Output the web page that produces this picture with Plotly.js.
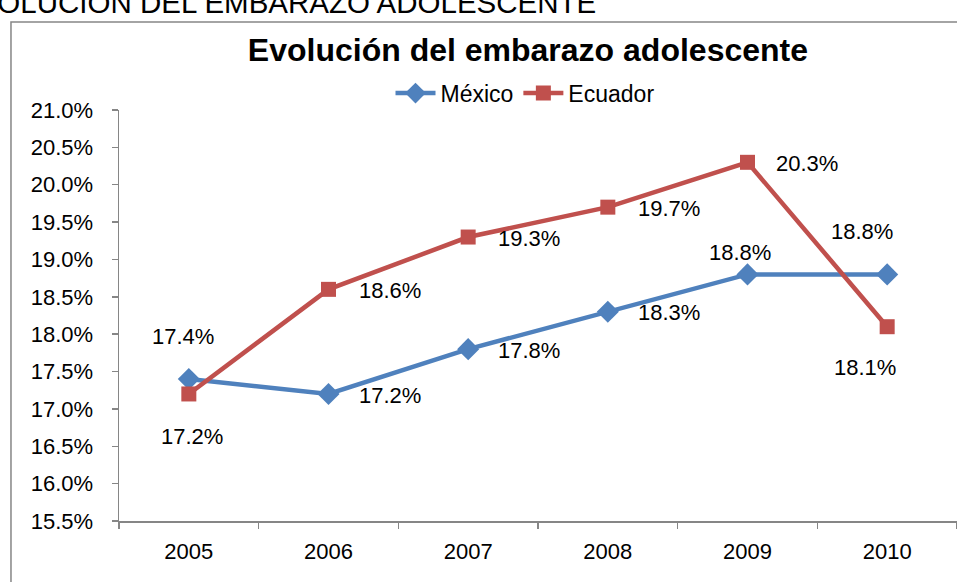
<!DOCTYPE html>
<html>
<head>
<meta charset="utf-8">
<script src="https://cdn.plot.ly/plotly-3.0.1.min.js"></script>
<style>html,body{margin:0;padding:0;background:#fff;}#chart{width:957px;height:582px;}</style>
</head>
<body>
<div id="chart"></div>
<script>
// ---- data ----
const years = ["2005", "2006", "2007", "2008", "2009", "2010"];
const mexico = [17.4, 17.2, 17.8, 18.3, 18.8, 18.8];
const ecuador = [17.2, 18.6, 19.3, 19.7, 20.3, 18.1];
const yTicks = [15.5, 16.0, 16.5, 17.0, 17.5, 18.0, 18.5, 19.0, 19.5, 20.0, 20.5, 21.0];
const seriesNames = ["México", "Ecuador"];
const chartTitle = "Evolución del embarazo adolescente";
const pageHeading = "EVOLUCIÓN DEL EMBARAZO ADOLESCENTE";

// ---- label placement (style only) ----
const mexLabelPos = [
  {xa: "center", xs: -6, ys: 43},
  {xa: "left", xs: 28, ys: -2},
  {xa: "left", xs: 28, ys: -1},
  {xa: "left", xs: 28, ys: -1},
  {xa: "center", xs: -8, ys: 22},
  {xa: "center", xs: -25, ys: 43}
];
const ecuLabelPos = [
  {xa: "center", xs: 3, ys: -43},
  {xa: "left", xs: 28, ys: -1},
  {xa: "left", xs: 28, ys: -1},
  {xa: "left", xs: 28, ys: -1},
  {xa: "left", xs: 26, ys: -1},
  {xa: "center", xs: -22, ys: -41}
];

const font = "Liberation Sans, Arial, sans-serif";
const blue = "#4F81BD", red = "#C0504D", axisGray = "#868686";

const fmt = v => v.toFixed(1) + "%";

const traces = [
  {
    x: years, y: mexico, name: seriesNames[0], type: "scatter", mode: "lines+markers",
    line: {color: blue, width: 4.5},
    marker: {symbol: "diamond", size: 17, color: blue},
    cliponaxis: false
  },
  {
    x: years, y: ecuador, name: seriesNames[1], type: "scatter", mode: "lines+markers",
    line: {color: red, width: 4.5},
    marker: {symbol: "square", size: 15, color: red},
    cliponaxis: false
  }
];

const annotations = [];
years.forEach((yr, i) => {
  // category axis: position by category index
  annotations.push({x: i, y: mexico[i], xref: "x", yref: "y", text: fmt(mexico[i]),
    showarrow: false, xanchor: mexLabelPos[i].xa, yanchor: "middle",
    xshift: mexLabelPos[i].xs, yshift: mexLabelPos[i].ys,
    font: {family: font, size: 22, color: "#000"}});
  annotations.push({x: i, y: ecuador[i], xref: "x", yref: "y", text: fmt(ecuador[i]),
    showarrow: false, xanchor: ecuLabelPos[i].xa, yanchor: "middle",
    xshift: ecuLabelPos[i].xs, yshift: ecuLabelPos[i].ys,
    font: {family: font, size: 22, color: "#000"}});
});
annotations.push({x: 0.5716, y: 1.262, xref: "paper", yref: "paper", text: pageHeading,
  showarrow: false, xanchor: "right", yanchor: "middle",
  font: {family: font, size: 29.5, color: "#000"}});

const layout = {
  width: 957, height: 582,
  margin: {l: 119, r: 0, t: 110, b: 61},
  paper_bgcolor: "#fff", plot_bgcolor: "#fff",
  showlegend: true,
  title: {text: "<b>" + chartTitle + "</b>", xref: "paper", yref: "container",
    x: 0.488, xanchor: "center", y: 0.914, yanchor: "middle",
    font: {family: font, size: 32, color: "#000"}},
  legend: {orientation: "h", x: 0.4845, xanchor: "center", y: 1.041, yanchor: "middle",
    font: {family: font, size: 23, color: "#000"}, bgcolor: "rgba(0,0,0,0)",
    itemwidth: 40, tracegroupgap: 0},
  xaxis: {
    type: "category", range: [-0.5, 5.5], tickson: "boundaries",
    showline: true, linecolor: axisGray, linewidth: 1.5,
    ticks: "outside", ticklen: 6, tickcolor: axisGray, tickwidth: 1.5,
    ticklabelstandoff: 10,
    showgrid: false, zeroline: false, fixedrange: true,
    tickfont: {family: font, size: 22, color: "#000"}
  },
  yaxis: {
    range: [15.5, 21.0], tickvals: yTicks, ticktext: yTicks.map(fmt),
    showline: true, linecolor: axisGray, linewidth: 1.5,
    ticks: "outside", ticklen: 6, tickcolor: axisGray, tickwidth: 1.5,
    ticklabelstandoff: 14,
    showgrid: false, zeroline: false, fixedrange: true,
    tickfont: {family: font, size: 22, color: "#000"}
  },
  annotations: annotations,
  shapes: [
    {type: "rect", xref: "paper", yref: "paper", x0: -0.1289, x1: 1.2, y0: -0.3, y1: 1.2141,
     line: {color: axisGray, width: 1.5}, fillcolor: "rgba(0,0,0,0)", layer: "below"}
  ]
};

Plotly.newPlot("chart", traces, layout, {displayModeBar: false, staticPlot: true});
</script>
</body>
</html>
